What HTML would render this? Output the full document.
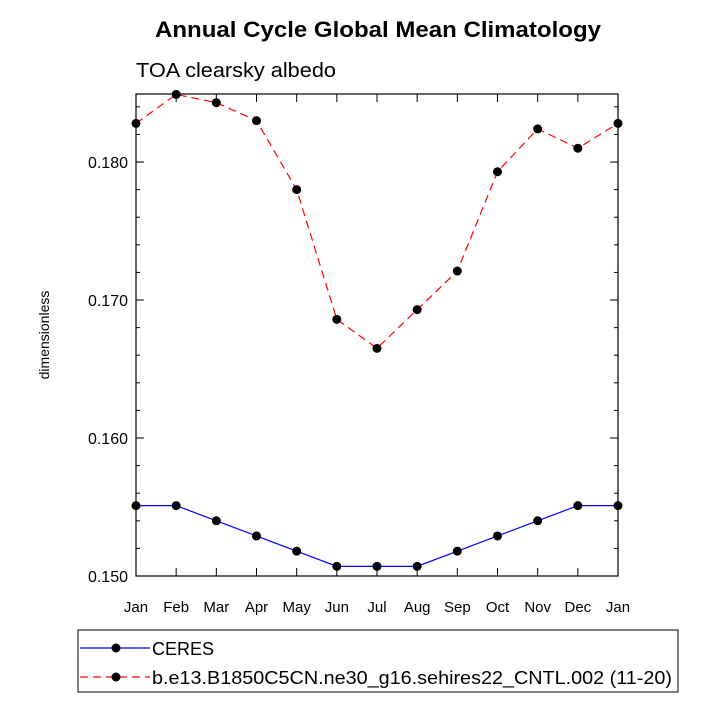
<!DOCTYPE html>
<html><head><meta charset="utf-8"><style>body{margin:0;background:#fff}svg{display:block;font-family:"Liberation Sans",sans-serif}</style></head>
<body>
<svg id="c" width="715" height="715">
<text x="155" y="37" textLength="446" lengthAdjust="spacingAndGlyphs" font-size="22" font-weight="bold">Annual Cycle Global Mean Climatology</text>
<text x="136" y="77" textLength="200" lengthAdjust="spacingAndGlyphs" font-size="20">TOA clearsky albedo</text>
<text transform="translate(49,335) rotate(-90)" text-anchor="middle" font-size="14">dimensionless</text>
<rect x="136" y="94" width="482" height="482" fill="none" stroke="#000" stroke-width="1.2"/>
<g id="g"></g>
<rect x="78" y="630" width="600" height="62" fill="none" stroke="#000" stroke-width="1"/>
<line x1="80" y1="648" x2="150" y2="648" stroke="#0000ff" stroke-width="1.2"/>
<circle cx="116" cy="648" r="4.5" fill="#000"/>
<text x="152" y="655" font-size="18">CERES</text>
<line x1="80" y1="677" x2="150" y2="677" stroke="#ff0000" stroke-width="1.2" stroke-dasharray="8,5"/>
<circle cx="116" cy="677" r="4.5" fill="#000"/>
<text x="152" y="684" textLength="520" lengthAdjust="spacingAndGlyphs" font-size="18">b.e13.B1850C5CN.ne30_g16.sehires22_CNTL.002 (11-20)</text>
</svg>
<script>
const months=["Jan","Feb","Mar","Apr","May","Jun","Jul","Aug","Sep","Oct","Nov","Dec","Jan"];
const ceres=[0.1551,0.1551,0.1540,0.1529,0.1518,0.1507,0.1507,0.1507,0.1518,0.1529,0.1540,0.1551,0.1551];
const model=[0.1828,0.1849,0.1843,0.1830,0.1780,0.1686,0.1665,0.1693,0.1721,0.1793,0.1824,0.1810,0.1828];
const yTicks=[0.150,0.160,0.170,0.180];
const yTickLabels=["0.150","0.160","0.170","0.180"];
const X0=136,X1=618,Y0=576,Y1=94,ymin=0.150,ymax=0.18493;
const xs=i=>X0+(X1-X0)*i/(months.length-1);
const ys=v=>Y0-(v-ymin)/(ymax-ymin)*(Y0-Y1);
const g=document.getElementById('g'),NS="http://www.w3.org/2000/svg";
function mk(t,a){const e=document.createElementNS(NS,t);for(const k in a)e.setAttribute(k,a[k]);g.appendChild(e);return e;}
months.forEach((m,i)=>{const x=xs(i);
 let e=mk('line',{x1:x,x2:x,y1:Y0,y2:Y0-8,stroke:'#000'});
 
 
 e=mk('line',{x1:x,x2:x,y1:Y1,y2:Y1+8,stroke:'#000'});
 
 
 e=mk('text',{x:x,y:612,'text-anchor':'middle','font-size':15});e.textContent=m;
 
 
});
for(let v=0.150;v<=ymax+1e-9;v+=0.002){const y=ys(v);
 let e=mk('line',{x1:X0,x2:X0+4,y1:y,y2:y,stroke:'#000'});
 
 
 e=mk('line',{x1:X1,x2:X1-4,y1:y,y2:y,stroke:'#000'});
 
 }
yTicks.forEach((v,i)=>{const y=ys(v);
 let e=mk('line',{x1:X0,x2:X0+8,y1:y,y2:y,stroke:'#000'});
 
 
 e=mk('line',{x1:X1,x2:X1-8,y1:y,y2:y,stroke:'#000'});
 
 
 e=mk('text',{x:128,y:y+6,'text-anchor':'end','font-size':16});e.textContent=yTickLabels[i];
 
 
});
function series(d,col,dash,name){
 const p=mk('polyline',{points:d.map((v,i)=>xs(i)+','+ys(v)).join(' '),fill:'none',stroke:col,'stroke-width':1.2,'stroke-dasharray':dash});
 
 
 d.forEach((v,i)=>{const c=mk('circle',{cx:xs(i),cy:ys(v),r:4.5,fill:'#000'});
  
  });
}
series(ceres,'#0000ff','none','ceres');
series(model,'#ff0000','8,5','model');
</script>
</body></html>
